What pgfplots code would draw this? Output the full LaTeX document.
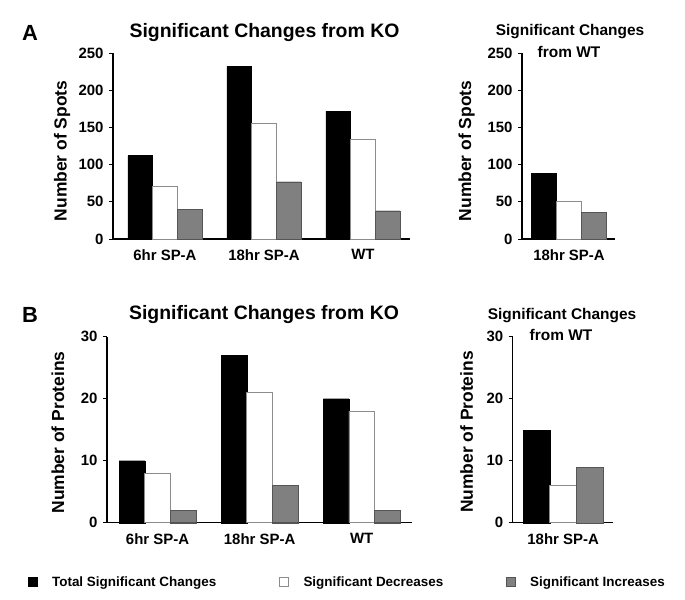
\documentclass[border=0pt]{standalone}
\usepackage{fontspec}
\setmainfont{Liberation Sans}
\usepackage{pgfplots}
\usepackage{pgfplotstable}
\pgfplotsset{compat=1.18}

\definecolor{barGray}{RGB}{128,128,128}
\definecolor{barEdge}{RGB}{85,85,85}
\definecolor{whiteEdge}{RGB}{140,140,140}

% A: number of spots
\pgfplotstableread{
x total dec inc
0 112 71 40
1 232 155 77
2 172 134 38
}\spotsKO
\pgfplotstableread{
x total dec inc
0 88 51 36
}\spotsWT
% B: number of proteins
\pgfplotstableread{
x total dec inc
0 10 8 2
1 27 21 6
2 20 18 2
}\protKO
\pgfplotstableread{
x total dec inc
0 15 6 9
}\protWT

\newcommand{\tickfont}{\bfseries\fontsize{15}{15}\selectfont}

\pgfplotsset{
  panel/.style={
    scale only axis, ybar, bar width=0.25, ymin=0,
    axis x line*=bottom, axis y line*=left,
    axis line style={line width=1.5bp, -},
    x axis line style={-}, y axis line style={-},
    xtick style={draw=none},
    ytick style={line width=1bp, black},
    tick align=outside, major tick length=4bp,
    /pgf/number format/assume math mode=true,
    tick label style={font=\tickfont},
    every y tick label/.append style={font=\tickfont, xshift=-2bp},
    every x tick label/.append style={font=\tickfont, yshift=-3bp},
    clip=false,
  },
  spots/.style={ymax=250, ytick={0,50,100,150,200,250},
    yticklabels={\tickfont 0,\tickfont 50,\tickfont 100,\tickfont 150,\tickfont 200,\tickfont 250}},
  prots/.style={ymax=30, ytick={0,10,20,30},
    yticklabels={\tickfont 0,\tickfont 10,\tickfont 20,\tickfont 30}},
  totbar/.style={fill=black, draw=black, bar shift=-0.25},
  decbar/.style={fill=white, draw=whiteEdge, line width=0.8bp, bar shift=0},
  incbar/.style={fill=barGray, draw=barEdge, bar shift=0.25},
}

\begin{document}
\begin{tikzpicture}
\path[use as bounding box] (0,0) rectangle (685bp,-600bp);

% ---- A, from KO
\begin{axis}[panel, spots, at={(113bp,-239bp)}, anchor=south west,
  width=297bp, height=186bp, xmin=-0.525, xmax=2.475,
  xtick={0,1,2}, xticklabels={6hr SP-A,18hr SP-A,WT}]
\addplot[totbar] table[x=x, y=total] {\spotsKO};
\addplot[decbar] table[x=x, y=dec] {\spotsKO};
\addplot[incbar] table[x=x, y=inc] {\spotsKO};
\end{axis}

% ---- A, from WT
\begin{axis}[panel, spots, at={(522bp,-239bp)}, anchor=south west,
  width=93bp, height=186bp, xmin=-0.47, xmax=0.46,
  xtick={0}, xticklabels={18hr SP-A}]
\addplot[totbar] table[x=x, y=total] {\spotsWT};
\addplot[decbar] table[x=x, y=dec] {\spotsWT};
\addplot[incbar] table[x=x, y=inc] {\spotsWT};
\end{axis}

% ---- B, from KO
\begin{axis}[panel, prots, at={(107bp,-522.7bp)}, anchor=south west,
  width=305bp, height=186bp, xmin=-0.495, xmax=2.493,
  xtick={0,1,2}, xticklabels={6hr SP-A,18hr SP-A,WT},
  legend columns=3,
  legend style={at={(axis description cs:-0.259,-0.319)}, anchor=west,
    draw=none, fill=none, inner sep=0pt,
    font=\bfseries\fontsize{13.5}{14}\selectfont,
    /tikz/every odd column/.append style={column sep=13bp},
    /tikz/every even column/.append style={column sep=61bp}},
  legend image code/.code={\draw[#1] (0bp,-4.5bp) rectangle (8.5bp,4.5bp);}]
\addplot[totbar] table[x=x, y=total] {\protKO};
\addplot[decbar] table[x=x, y=dec] {\protKO};
\addplot[incbar] table[x=x, y=inc] {\protKO};
\legend{Total Significant Changes, Significant Decreases, Significant Increases}
\end{axis}

% ---- B, from WT
\begin{axis}[panel, prots, at={(512.7bp,-522.7bp)}, anchor=south west,
  width=100bp, height=186bp, xmin=-0.474, xmax=0.466,
  xtick={0}, xticklabels={18hr SP-A}]
\addplot[totbar] table[x=x, y=total] {\protWT};
\addplot[decbar] table[x=x, y=dec] {\protWT};
\addplot[incbar] table[x=x, y=inc] {\protWT};
\end{axis}

% titles, panel letters, axis titles
\begin{scope}[every node/.style={font=\bfseries, inner sep=0pt}]
\node[font=\bfseries\fontsize{22}{22}\selectfont] at (30bp,-33bp) {A};
\node[font=\bfseries\fontsize{22}{22}\selectfont] at (30bp,-315bp) {B};
\node[font=\bfseries\fontsize{19.5}{20}\selectfont] at (264.5bp,-33bp) {Significant Changes from KO};
\node[font=\bfseries\fontsize{19.5}{20}\selectfont] at (264bp,-315bp) {Significant Changes from KO};
\node[font=\bfseries\fontsize{15.5}{16}\selectfont] at (570bp,-32bp) {Significant Changes};
\node[font=\bfseries\fontsize{15.5}{16}\selectfont] at (569bp,-52bp) {from WT};
\node[font=\bfseries\fontsize{15.5}{16}\selectfont] at (562bp,-316bp) {Significant Changes};
\node[font=\bfseries\fontsize{15.5}{16}\selectfont] at (561bp,-335bp) {from WT};
\node[rotate=90, font=\bfseries\fontsize{17.5}{18}\selectfont] at (62bp,-151bp) {Number of Spots};
\node[rotate=90, font=\bfseries\fontsize{17.5}{18}\selectfont] at (466.7bp,-151bp) {Number of Spots};
\node[rotate=90, font=\bfseries\fontsize{17.5}{18}\selectfont] at (58bp,-432.5bp) {Number of Proteins};
\node[rotate=90, font=\bfseries\fontsize{17.5}{18}\selectfont] at (466.7bp,-432bp) {Number of Proteins};
\end{scope}
\end{tikzpicture}
\end{document}
